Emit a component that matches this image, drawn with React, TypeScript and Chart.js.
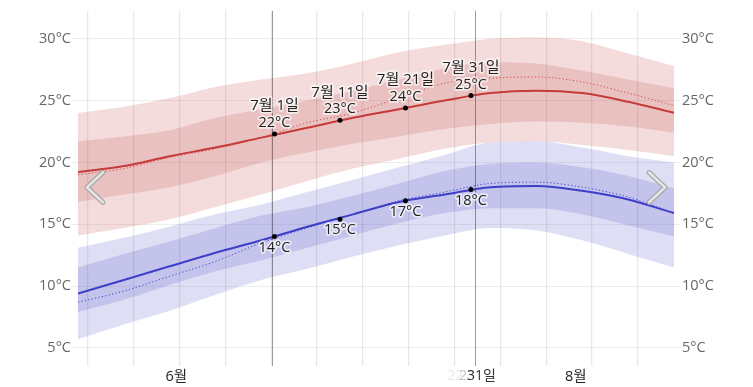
import React, { useEffect, useRef } from 'react';
import { Chart, registerables } from 'chart.js';

Chart.register(...registerables);

const FONT = "'Segoe UI', 'Open Sans', 'Noto Sans CJK KR', sans-serif";

// day index: 0 = 6월 1일 ... 91 = 8월 31일
const days = [0, 7, 14, 21, 28, 35, 42, 49, 56, 63, 70, 77, 84, 91];
const hiP90 = [24.0, 24.5, 25.2, 26.1, 26.7, 27.2, 28.0, 28.9, 29.5, 30.0, 30.1, 29.8, 28.8, 27.8];
const hiP75 = [21.7, 22.1, 22.6, 23.6, 24.3, 25.0, 25.8, 26.7, 27.6, 28.1, 28.0, 27.4, 26.7, 26.0];
const hiMean = [19.2, 19.7, 20.5, 21.2, 22.0, 22.8, 23.6, 24.3, 25.0, 25.6, 25.8, 25.6, 24.9, 24.0];
const hiRecent = [19.0, 19.5, 20.4, 21.1, 22.0, 23.2, 24.0, 25.2, 26.4, 26.8, 26.9, 26.5, 25.6, 24.6];
const hiP25 = [16.8, 17.4, 18.0, 18.9, 20.0, 20.8, 21.5, 22.1, 22.7, 23.1, 23.3, 23.2, 22.9, 22.4];
const hiP10 = [14.1, 14.7, 15.4, 16.4, 17.4, 18.5, 19.5, 20.3, 21.1, 21.6, 21.7, 21.4, 21.0, 20.5];
const loP90 = [13.1, 13.9, 14.8, 15.8, 16.6, 17.6, 18.6, 19.6, 20.6, 21.6, 21.7, 21.2, 20.5, 20.0];
const loP75 = [11.5, 12.6, 13.6, 14.7, 15.7, 16.4, 17.3, 18.3, 19.3, 19.9, 20.0, 19.6, 18.9, 17.9];
const loMean = [9.4, 10.5, 11.6, 12.7, 13.7, 14.8, 15.8, 16.8, 17.4, 18.0, 18.1, 17.7, 17.0, 15.9];
const loRecent = [8.7, 9.6, 10.8, 12.0, 13.5, 14.7, 15.8, 16.9, 17.6, 18.3, 18.4, 18.0, 17.2, 15.9];
const loP25 = [7.9, 8.9, 10.1, 11.2, 12.1, 13.1, 14.1, 15.1, 15.9, 16.3, 16.3, 15.8, 14.9, 14.0];
const loP10 = [5.7, 6.9, 8.0, 9.3, 10.5, 11.4, 12.4, 13.3, 14.1, 14.7, 14.5, 13.7, 12.6, 11.5];

const markerDays = [30, 40, 50, 60];
const markerDates = ['7월 1일', '7월 11일', '7월 21일', '7월 31일'];
const hiMarkers = [22.3, 23.4, 24.4, 25.4];
const loMarkers = [14.0, 15.4, 16.9, 17.8];

const yTicks = [5, 10, 15, 20, 25, 30];
const gridDays = [1.5, 8.5, 15.5, 22.5, 29.5, 36.5, 43.5, 50.5, 57.5, 64.5, 71.5, 78.5, 85.5];
const monthDays = [15, 76];
const monthLabels = ['6월', '8월'];
const highlightDays = [29.6, 60.6];
const overlapTexts = ['22', '23', '31일'];
const overlapDays = [57.6, 59.4, 61.6];
const overlapColors = ['#e8e8e8', '#c4c4c4', '#333333'];

const Y_MIN = 4.19;
const Y_MAX = 32.26;
const X_MIN = 0;
const X_MAX = 91;

const pts = (ys: number[]) => days.map((d, i) => ({ x: d, y: ys[i] }));

export default function App() {
  const ref = useRef<HTMLCanvasElement>(null);

  useEffect(() => {
    const canvas = ref.current!;
    const band = (ys: number[], color: string, fill: boolean) => ({
      data: pts(ys),
      borderWidth: 0,
      pointRadius: 0,
      backgroundColor: color,
      borderColor: 'rgba(0,0,0,0)',
      fill: fill ? '+1' : false,
      cubicInterpolationMode: 'monotone',
      order: 3,
    });
    const line = (ys: number[], color: string, dotted: boolean) => ({
      data: pts(ys),
      borderWidth: dotted ? 1 : 2,
      borderDash: dotted ? [1.2, 2.3] : [],
      borderColor: color,
      pointRadius: 0,
      fill: false,
      cubicInterpolationMode: 'monotone',
      order: dotted ? 2 : 1,
    });
    const markers = (ys: number[]) => ({
      data: markerDays.map((d, i) => ({ x: d, y: ys[i] })),
      showLine: false,
      pointRadius: 2.5,
      pointBackgroundColor: '#000',
      pointBorderWidth: 0,
      borderColor: '#000',
      order: 0,
    });

    const allTicks = [...gridDays, ...monthDays].sort((a, b) => a - b);

    const overlay = {
      id: 'overlay',
      beforeDatasetsDraw(chart: any) {
        const { ctx, chartArea, scales } = chart;
        const x = scales.x;
        ctx.save();
        ctx.strokeStyle = 'rgba(0,0,0,0.38)';
        ctx.lineWidth = 1;
        highlightDays.forEach((d) => {
          const px = Math.round(x.getPixelForValue(d)) + 0.5;
          ctx.beginPath();
          ctx.moveTo(px, chartArea.top);
          ctx.lineTo(px, chartArea.bottom + 8);
          ctx.stroke();
        });
        ctx.restore();
      },
      afterDatasetsDraw(chart: any) {
        const { ctx, chartArea, scales } = chart;
        const x = scales.x;
        const y = scales.y;
        ctx.save();
        ctx.textAlign = 'center';
        ctx.textBaseline = 'middle';
        ctx.lineJoin = 'round';
        const halo = (t: string, px: number, py: number, size: number) => {
          ctx.font = `${size}px ${FONT}`;
          ctx.strokeStyle = 'rgba(255,255,255,0.65)';
          ctx.lineWidth = 3.5;
          ctx.strokeText(t, px, py);
          ctx.fillStyle = '#222';
          ctx.fillText(t, px, py);
        };
        markerDays.forEach((d, i) => {
          const px = x.getPixelForValue(d);
          const hy = y.getPixelForValue(hiMarkers[i]);
          halo(markerDates[i], px, hy - 28, 15);
          halo(`${Math.round(hiMarkers[i])}°C`, px, hy - 11, 14.5);
          const ly = y.getPixelForValue(loMarkers[i]);
          halo(`${Math.round(loMarkers[i])}°C`, px, ly + 11, 14.5);
        });

        // overlapping axis labels
        ctx.font = `14px ${FONT}`;
        overlapTexts.forEach((t, i) => {
          ctx.fillStyle = overlapColors[i];
          ctx.fillText(t, x.getPixelForValue(overlapDays[i]), chartArea.bottom + 18);
        });

        // navigation chevrons
        const midY = (chartArea.top + chartArea.bottom) / 2 + 3;
        const chev = (p: number[][]) => {
          ctx.lineCap = 'round';
          ctx.lineJoin = 'round';
          ctx.beginPath();
          ctx.moveTo(p[0][0], p[0][1]);
          ctx.lineTo(p[1][0], p[1][1]);
          ctx.lineTo(p[2][0], p[2][1]);
          ctx.strokeStyle = '#a8a8a8';
          ctx.lineWidth = 5;
          ctx.stroke();
          ctx.strokeStyle = '#e6e6e6';
          ctx.lineWidth = 2.6;
          ctx.stroke();
        };
        const l = chartArea.left;
        const r = chartArea.right;
        chev([[l + 25, midY - 15], [l + 9, midY], [l + 25, midY + 15]]);
        chev([[r - 25, midY - 15], [r - 9, midY], [r - 25, midY + 15]]);
        ctx.restore();
      },
    };

    const yAxis = (pos: 'left' | 'right') => ({
      type: 'linear',
      position: pos,
      min: Y_MIN,
      max: Y_MAX,
      afterBuildTicks: (s: any) => {
        s.ticks = yTicks.map((v) => ({ value: v }));
      },
      afterFit: (s: any) => {
        s.width = pos === 'left' ? 78 : 79;
      },
      grid: {
        color: 'rgba(0,0,0,0.07)',
        tickLength: 6,
        drawOnChartArea: pos === 'left',
      },
      border: { display: false },
      ticks: {
        callback: (v: any) => `${v}°C`,
        color: '#666',
        font: { size: 14.5, family: FONT },
        padding: pos === 'left' ? 1 : 2,
      },
    });

    const chart = new Chart(canvas, {
      type: 'line',
      data: {
        datasets: [
          band(hiP90, 'rgba(200,60,60,0.18)', true),
          band(hiP10, 'rgba(0,0,0,0)', false),
          band(hiP75, 'rgba(170,50,50,0.16)', true),
          band(hiP25, 'rgba(0,0,0,0)', false),
          band(loP90, 'rgba(70,70,200,0.18)', true),
          band(loP10, 'rgba(0,0,0,0)', false),
          band(loP75, 'rgba(50,50,180,0.16)', true),
          band(loP25, 'rgba(0,0,0,0)', false),
          line(hiMean, 'rgb(198,58,58)', false),
          line(hiRecent, 'rgb(208,70,70)', true),
          line(loMean, 'rgb(62,62,200)', false),
          line(loRecent, 'rgb(70,70,205)', true),
          markers(hiMarkers),
          markers(loMarkers),
        ] as any,
      },
      options: {
        responsive: false,
        animation: false,
        events: [],
        layout: { padding: { top: 10, left: 0, right: 0, bottom: 0 } },
        plugins: {
          legend: { display: false },
          tooltip: { enabled: false },
          filler: { drawTime: 'beforeDatasetsDraw' },
        },
        scales: {
          x: {
            type: 'linear',
            min: X_MIN,
            max: X_MAX,
            afterBuildTicks: (s: any) => {
              s.ticks = allTicks.map((v) => ({ value: v }));
            },
            afterFit: (s: any) => {
              s.height = 29;
            },
            grid: {
              color: (c: any) =>
                c.tick && monthDays.includes(c.tick.value) ? 'rgba(0,0,0,0)' : 'rgba(0,0,0,0.09)',
              tickLength: 8,
              lineWidth: 1.3,
            },
            border: { display: false },
            ticks: {
              autoSkip: false,
              maxRotation: 0,
              padding: 2,
              color: '#222',
              font: { size: 14.5, family: FONT },
              callback: (v: any) => {
                const i = monthDays.indexOf(v);
                return i >= 0 ? monthLabels[i] : '';
              },
            },
          },
          y: yAxis('left'),
          y2: yAxis('right'),
        } as any,
      },
      plugins: [overlay],
    });
    return () => chart.destroy();
  }, []);

  return (
    <div style={{ position: 'fixed', left: 0, top: 0, width: 753, height: 387 }}>
      <canvas ref={ref} width={753} height={387} style={{ display: 'block' }} />
    </div>
  );
}
